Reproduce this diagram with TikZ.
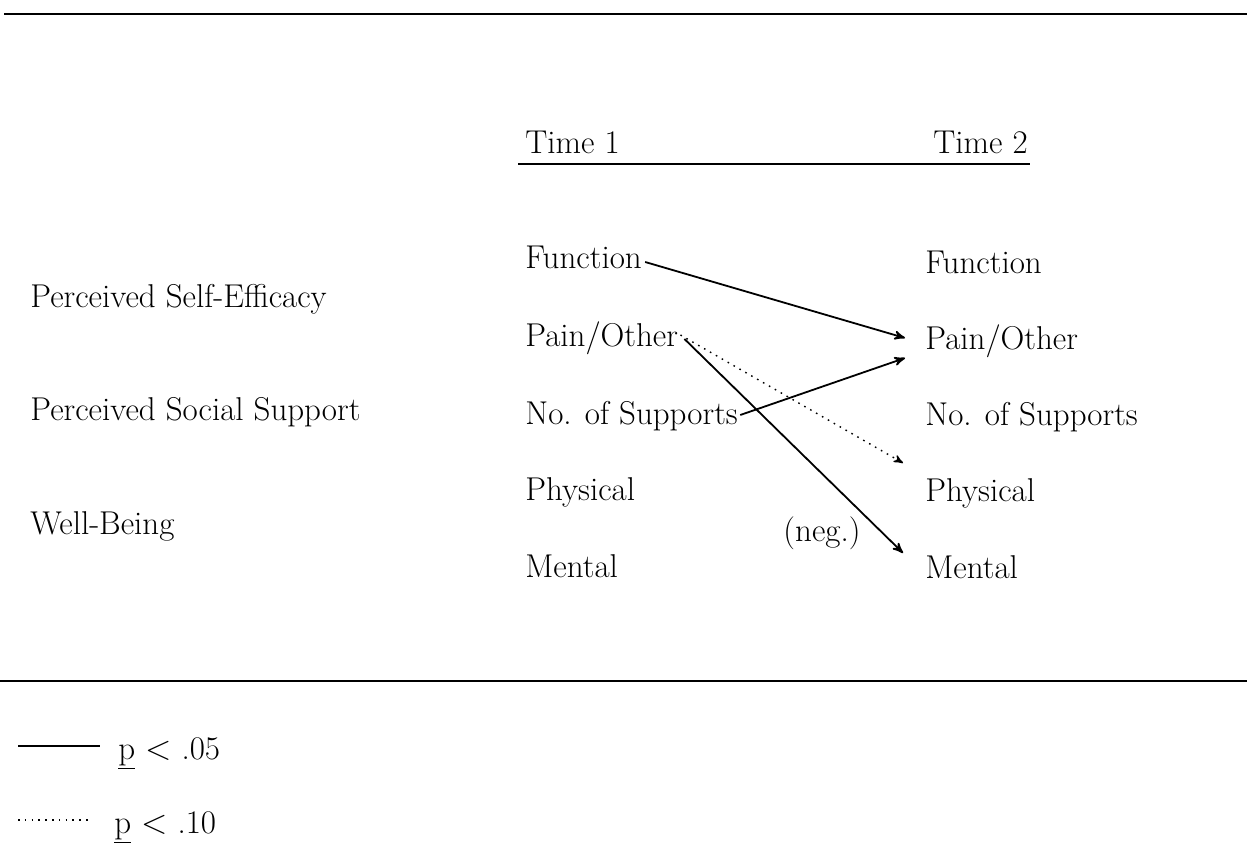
\documentclass[tikz,border=0pt]{standalone}
\usepackage{tikz}
\usetikzlibrary{arrows,positioning}
\tikzset{
  every picture/.style = {
    >=stealth',
    x = 0.5pt,
    y = -0.5pt
  }
  ,
  var/.style = {
    anchor = west,
    inner sep = 0pt,
    font = \fontsize{16.5}{19}\selectfont,
    text height = 11pt,
    text depth = 0pt
  }
  , % p < .05 paths
  sig/.style = {
    ->,
    line width = 0.9pt
  }
  , % p < .10 paths
  trend/.style = {
    ->,
    line width = 0.7pt,
    dash pattern = on 0.8pt off 2.6pt
  }
  ,
  rule/.style = {
    line width = 1.4pt
  }
}

\begin{document}
\begin{tikzpicture}
\useasboundingbox (0,0) rectangle (1247,845);
\draw[rule] (4,14) -- (1247,14);
\draw[rule] (0,681) -- (1247,681);
% column heads
\node[var] (t1) at (525,143) {Time 1};
\node[var] (t2) at (933,143) {Time 2};
\draw[line width=1.2pt] (518,164) -- (1030,164);
% constructs
\node[var] (pse) at (30,296) {Perceived Self-Efficacy};
\node[var] (pss) at (30,409) {Perceived Social Support};
\node[var] (wb) at (30,523) {Well-Being};
% time 1
\node[var] (fn1) at (525,258) {Function};
\node[var] (po1) at (525,335) {Pain/Other};
\node[var] (ns1) at (525,413) {No. of Supports};
\node[var] (ph1) at (525,489) {Physical};
\node[var] (me1) at (525,566) {Mental};
% time 2
\node[var] (fn2) at (925,262) {Function};
\node[var] (po2) at (925,338) {Pain/Other};
\node[var] (ns2) at (925,414) {No. of Supports};
\node[var] (ph2) at (925,490) {Physical};
\node[var] (me2) at (925,567) {Mental};
% paths
\draw[sig] ([xshift=1.5pt,yshift=-2pt]fn1.east) -- ([xshift=-10pt]po2.west);
\draw[sig] ([xshift=1pt,yshift=-1pt]ns1.east) -- ([xshift=-10pt,yshift=-10pt]po2.west);
\draw[trend] ([xshift=1pt]po1.east) -- ([xshift=-11pt,yshift=13.5pt]ph2.west);
\draw[sig] ([xshift=3pt,yshift=-2pt]po1.east) -- ([xshift=-11pt,yshift=7pt]me2.west);
\node[var, anchor=center] (neg) at (822,530) {(neg.)};
% legend
\node[var] (lg1) at (118,748) {\underline{p} $<$ .05};
\node[var] (lg2) at (114,822) {\underline{p} $<$ .10};
\coordinate (s1) at (18,746);
\coordinate (s2) at (18,820);
\draw[line width=0.9pt] (s1) -- ([xshift=-9pt,yshift=1pt]lg1.west);
\draw[trend, -] (s2) -- ([xshift=-11pt,yshift=1pt]lg2.west);
\end{tikzpicture}
\end{document}
